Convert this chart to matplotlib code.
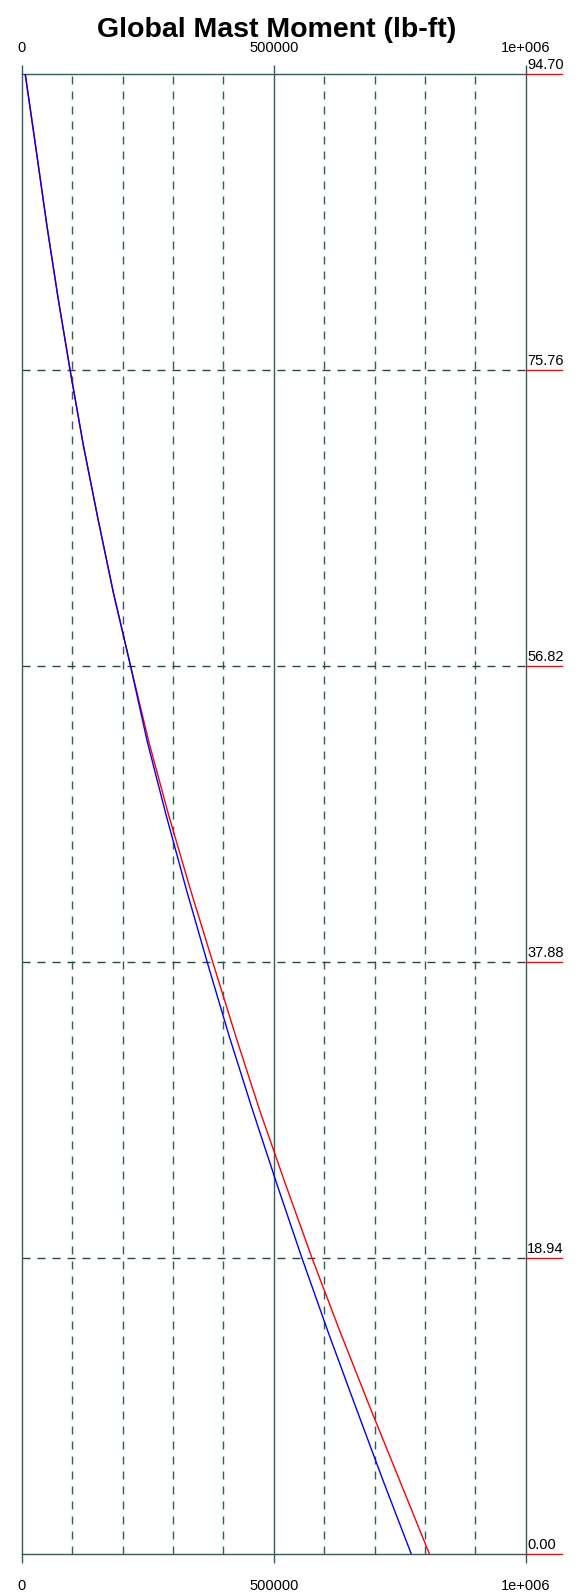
import matplotlib
matplotlib.use("Agg")
import matplotlib.pyplot as plt
from matplotlib.transforms import blended_transform_factory

# ---- data ----
heights = [94.70, 90.0, 85.0, 80.4, 75.76, 71.0, 66.29, 61.5, 56.82, 52.0,
           47.35, 42.6, 37.88, 33.1, 28.41, 23.7, 18.94, 14.2, 9.47, 4.7, 0.0]
moment_red = [7000, 28000, 50000, 72000, 96000, 122000, 151000, 182000, 216000, 252000,
              291000, 334000, 379000, 425000, 472000, 523000, 576000, 632000, 690000, 750000, 809000]
moment_blue = [7000, 28000, 50000, 72000, 96000, 122000, 151000, 182000, 216000, 249000,
               286000, 326000, 368000, 412000, 458000, 506000, 556000, 608000, 662000, 717000, 773000]
height_ticks = [94.70, 75.76, 56.82, 37.88, 18.94, 0.00]
height_labels = ["94.70", "75.76", "56.82", "37.88", "18.94", "0.00"]
x_ticks = [0, 500000, 1000000]
x_tick_labels = ["0", "500000", "1e+006"]
x_grid = [100000, 200000, 300000, 400000, 600000, 700000, 800000, 900000]
title = "Global Mast Moment (lb-ft)"

plt.rcParams['font.family'] = ['Liberation Sans', 'DejaVu Sans']
plt.rcParams['lines.scale_dashes'] = False

W, H = 580, 1596
fig = plt.figure(figsize=(W / 100, H / 100), dpi=100)
L, R, T, B = 21.7, 525.7, 74, 1554
ax = fig.add_axes([L / W, 1 - B / H, (R - L) / W, (B - T) / H])
ax.set_xlim(0, 1000000)
ax.set_ylim(0, 94.70)

grid_c = '#2F5F5A'
dash = (0, (5.76, 5.04))

for s in ax.spines.values():
    s.set_color(grid_c)
    s.set_linewidth(1.0)

for xv in x_grid:
    ax.axvline(xv, color=grid_c, lw=1.0, linestyle=dash, zorder=1)
ax.axvline(500000, color=grid_c, lw=1.0, zorder=1)
for hv in height_ticks[1:-1]:
    ax.axhline(hv, color='#1F4A46', lw=1.0, linestyle=dash, zorder=1)

ax.plot(moment_red, heights, color='#FF0000', lw=1.0, zorder=3)
ax.plot(moment_blue, heights, color='#0000FF', lw=1.0, zorder=3)

ax.set_xticks(x_ticks)
ax.set_xticklabels(x_tick_labels)
ax.tick_params(axis='x', which='both', top=True, bottom=True, labeltop=True,
               labelbottom=True, direction='out', length=9 * 0.72, width=1.0,
               color=grid_c, labelsize=10.5)
for t in ax.xaxis.get_major_ticks():
    t.set_pad(10)
ax.xaxis.set_tick_params(which='major', labeltop=True)
ax.tick_params(axis='x', labelbottom=True, pad=10)
for lab in ax.get_xticklabels(which='major'):
    pass
ax.set_yticks([])

tr = blended_transform_factory(ax.transAxes, ax.transData)
ul = 36 / (R - L)
for hv, lab in zip(height_ticks, height_labels):
    ax.plot([1.0, 1.0 + ul], [hv, hv], color='#FF0000', lw=1.0, transform=tr,
            clip_on=False, zorder=4)
    ax.annotate(lab, xy=(1.0, hv), xycoords=tr, xytext=(1, 1.2),
                textcoords='offset points', ha='left', va='bottom',
                fontsize=10.5, color='#000000', annotation_clip=False)

fig.text(277 / W, 1 - 30 / H, title, ha='center', va='center',
         fontsize=20.5, fontweight='bold', color='#000000')

fig.canvas.draw()
# fine-tune vertical positions of the top / bottom tick labels
import matplotlib.transforms as mtransforms
for t in ax.xaxis.get_major_ticks():
    t.label1.set_transform(t.label1.get_transform() +
                           mtransforms.ScaledTranslation(0, -1.5 / 72, fig.dpi_scale_trans))
    t.label2.set_transform(t.label2.get_transform() +
                           mtransforms.ScaledTranslation(0, -2.5 / 72, fig.dpi_scale_trans))

fig.savefig('out.png', dpi=100)
